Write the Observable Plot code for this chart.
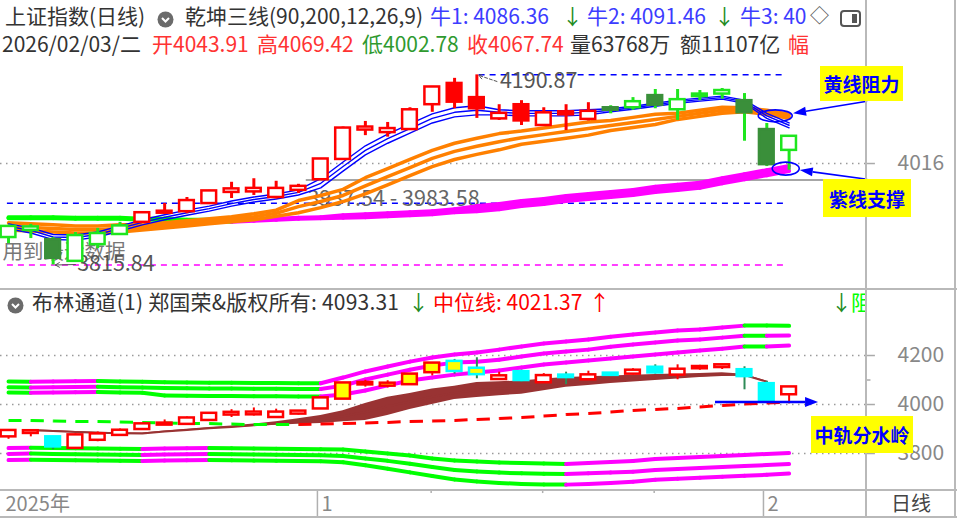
<!DOCTYPE html>
<html><head><meta charset="utf-8">
<script src="https://cdn.jsdelivr.net/npm/d3@7"></script>
<script src="https://cdn.jsdelivr.net/npm/@observablehq/plot@0.6"></script>
<style>
html,body{margin:0;padding:0;background:#fff;}
#root{position:relative;width:957px;height:518px;overflow:hidden;background:#fff;font-family:"Noto Sans CJK SC","Noto Sans",sans-serif;}
.t{position:absolute;white-space:nowrap;font-size:21px;line-height:1;}
.hl{position:absolute;background:#b9b9b9;}
.box{position:absolute;background:#ffff00;color:#0000ff;font-weight:bold;font-size:19px;display:flex;align-items:center;justify-content:center;white-space:nowrap;}
.panel{position:absolute;left:0;}
</style></head>
<body><div id="root"></div>
<script>
// ---------------- DATA ----------------
const dates = ["12-12","12-15","12-16","12-17","12-18","12-19","12-22","12-23","12-24","12-25","12-26","12-29","12-30","12-31","01-05","01-06","01-07","01-08","01-09","01-12","01-13","01-14","01-15","01-16","01-19","01-20","01-21","01-22","01-23","01-26","01-27","01-28","01-29","01-30","02-02","02-03"];
const open  = [3872,3886,3864,3825,3858,3878,3902,3920,3923,3939,3961,3962,3951,3965,3986,4026,4084,4079,4085,4134,4172,4144,4106,4130,4093,4116,4105,4124,4128,4148,4124,4150,4155,4138,4081,4043.91];
const high  = [3894,3896,3870,3880,3888,3900,3920,3937,3949,3963,3979,3986,3981,3975,4025,4088,4099,4097,4126,4168,4184,4190.87,4132,4140,4126,4132,4136,4130,4146,4162,4162,4160,4164,4154,4095,4069.42];
const low   = [3858,3868,3815.84,3822,3848,3874,3900,3917,3917,3936,3947,3953,3946,3957,3985,4023,4071,4068,4084,4117,4124,4105,4101,4091,4090,4081,4100,4114,4121,4124,4101,4140,4143,4060,4010,4002.78];
const close = [3890,3889,3831,3872,3876,3891,3917,3920,3941,3960,3964,3965,3965,3969,4023,4084,4086,4083,4120,4165,4139,4126,4113,4102,4114,4114,4117,4123,4136,4133,4140,4151,4158,4118,4015.75,4067.74];
const trend = ["空","空","空","空","空","空","多","多","多","多","多","多","多","多","多","多","多","多","多","多","多","多","多","多","多","多","多","空","空","空","空","空","空","空","空","空"];

// 乾坤三线 (top panel)
const blue1 = [3887,3879,3866,3865,3871,3883,3895,3905,3914,3922,3932,3940,3946,3954,3968,4001,4033,4056,4076,4096,4108,4112,4112,4110,4110,4110,4112,4118,4123,4129,4135,4139,4143,4135,4105,4086.36];
const blue2 = [3892,3884,3871,3870,3876,3888,3900,3910,3919,3927,3937,3945,3951,3959,3977,4010,4042,4065,4085,4105,4117,4121,4117,4115,4115,4115,4117,4121,4126,4132,4138,4142,4146,4138,4110,4091.46];
const blue3 = [3897,3889,3876,3875,3881,3893,3905,3915,3924,3932,3942,3950,3956,3964,3986,4019,4051,4074,4094,4114,4126,4130,4122,4120,4120,4120,4122,4124,4129,4135,4141,4145,4149,4141,4115,4096];
const orange1 = [3885,3883,3881,3879,3879,3881,3885,3889,3893,3897,3901,3905,3912,3919,3929,3941,3956,3974,3992,4010,4024,4034,4043,4054,4060,4066,4072,4081,4087,4093,4103,4109,4115,4118,4113,4105];
const orange2 = [3892,3890,3888,3886,3886,3888,3890,3894,3898,3902,3906,3911,3918,3931,3941,3953,3972,3990,4008,4026,4040,4050,4059,4067,4073,4079,4085,4091,4097,4103,4109,4115,4121,4122,4117,4109];
const orange3 = [3899,3897,3895,3893,3893,3895,3895,3899,3903,3907,3911,3917,3924,3943,3953,3965,3988,4006,4024,4042,4056,4066,4075,4080,4086,4092,4098,4101,4107,4113,4115,4121,4127,4126,4121,4113];
const purple1 = [3908,3908,3908,3907,3907,3907,3905,3905,3903,3903,3901,3903,3905,3907,3908,3909,3910,3912,3914,3916,3920,3922,3926,3932,3936,3942,3946,3950,3954,3960,3964,3968,3977,3985,3993,4001];
const purple2 = [3909,3909,3909,3908,3908,3908,3906,3906,3904,3904,3902,3904,3906,3908,3909,3911,3913,3915,3917,3919,3923,3927,3931,3937,3941,3947,3951,3955,3959,3965,3969,3973,3982,3990,3998,4006];
const purple3 = [3910,3910,3910,3909,3909,3909,3907,3907,3905,3905,3903,3905,3907,3909,3910,3914,3916,3918,3920,3922,3926,3932,3936,3942,3946,3952,3956,3960,3964,3970,3974,3978,3987,3995,4003,4011];
const periodHigh = 4190.87, periodLow = 3815.84;
const gapLow = 3937.54, gapHigh = 3983.58;
const topTicks = [4016];

// 布林通道 (bottom panel)
const bollUp1 = [4094,4093,4094,4095,4096,4094,4093,4091,4090,4089,4089,4088,4088,4087,4087,4110,4135,4155,4175,4192,4204,4212,4224,4237,4249,4257,4265,4277,4286,4294,4302,4306,4314,4322,4322,4321];
const bollUp2 = [4070,4069,4070,4071,4072,4070,4069,4067,4066,4065,4065,4064,4064,4063,4063,4077,4102,4122,4142,4159,4171,4175,4183,4196,4208,4216,4224,4236,4245,4253,4261,4265,4273,4281,4281,4282];
const bollUp3 = [4049,4048,4049,4050,4051,4049,4048,4037,4036,4035,4035,4034,4034,4033,4033,4041,4057,4078,4098,4110,4122,4131,4139,4151,4163,4171,4180,4188,4196,4204,4212,4220,4228,4237,4237,4241];
const bollLo1 = [3822,3824,3822,3821,3820,3819,3818,3820,3821,3822,3821,3820,3819,3818,3817,3816,3808,3800,3792,3780,3771,3767,3763,3761,3759,3757,3761,3765,3769,3778,3782,3786,3790,3794,3798,3802];
const bollLo2 = [3798,3800,3798,3797,3796,3795,3794,3796,3797,3798,3797,3796,3795,3794,3793,3790,3780,3770,3758,3745,3733,3727,3722,3719,3717,3716,3719,3722,3726,3733,3737,3741,3745,3749,3753,3757];
const bollLo3 = [3773,3775,3773,3772,3771,3770,3769,3771,3772,3773,3772,3771,3770,3769,3768,3764,3752,3738,3723,3708,3694,3686,3680,3676,3674,3673,3676,3680,3685,3693,3697,3701,3705,3709,3713,3718];
const midLine = [3935,3935,3933,3931,3931,3929,3927,3925,3922,3922,3920,3918,3918,3918,3920,3922,3925,3927,3931,3933,3935,3939,3943,3947,3953,3959,3963,3969,3976,3980,3984,3990,3996,4002,4006,4010];
const bandTop = [null,3898,3894,3890,3887,3885,3884,3892,3899,3906,3912,3920,3930,3942,3955,3975,4004,4030,4045,4063,4075,4090,4093,4096,4104,4110,4113,4116,4119,4122,4125,4127,4130,4124,4095,null];
const bandBot = [null,3892,3889,3886,3883,3881,3880,3887,3893,3900,3905,3910,3915,3919,3922,3930,3935,3955,3980,4000,4020,4029,4036,4042,4056,4070,4078,4086,4092,4098,4104,4110,4114,4116,4091,null];
const bottomTicks = [3800, 4000, 4200];
const bottomMinorTicks = [3900, 4100];

// time axis
const monthTicks = [14, 34];
const monthLabels = ["1", "2"];
const weekTicks = [19, 24, 29];
const yearLabel = "2025年";

// header values
const bullValues = [4086.36, 4091.46];
const bollHeaderValue = 4093.31, midHeaderValue = 4021.37;
const volumeText = "63768万", amountText = "11107亿";

// ---------------- LAYOUT ----------------
const FONT = "Noto Sans CJK SC, Noto Sans, sans-serif";
const W = 957, MR = 91;
const xMin = -0.36, xMax = 38.47;
const N = close.length, I = d3.range(N), last = N - 1;
const RED = "#ff0000", GREEN = "#1ee61e", DKGREEN = "#3a8f3a", BLUE = "#0000ff",
      ORANGE = "#ff8000", MAG = "#ff00ff", LIME = "#00ff00", CYAN = "#00ffff", YELLOW = "#ffff00";
const root = document.getElementById("root");

function addDiv(cls, css, html, parent) {
  const d = document.createElement("div"); d.className = cls;
  Object.assign(d.style, css); if (html) d.innerHTML = html; (parent || root).appendChild(d); return d;
}
const hdr = addDiv("panel", {top: "0px", left: "0px", width: "866px", height: "518px", overflow: "hidden"});
function addText(txt, x, cy, color, parent, css) {
  const s = document.createElement("div");
  s.className = "t"; s.textContent = txt;
  s.style.left = x + "px"; s.style.top = (cy - 12) + "px"; s.style.color = color;
  if (css) Object.assign(s.style, css);
  (parent || hdr).appendChild(s);
  return s;
}

const circleIcon = '<svg width="17" height="17"><circle cx="8.5" cy="8.5" r="8" fill="#6b6b6b"/><path d="M5 7 L8.5 10.5 L12 7" stroke="#fff" stroke-width="2" fill="none"/></svg>';

// Row 1
addText("上证指数(日线)", 5, 17, "#333");
addDiv("panel", {left: "157px", top: "8.5px", width: "17px", height: "17px"}, circleIcon);
addText("乾坤三线(90,200,12,26,9)", 185, 17, "#333");
addText("牛1: " + bullValues[0].toFixed(2), 430, 17, "#3c3cff");
addText("↓", 562, 17, "#228b22");
addText("牛2: " + bullValues[1].toFixed(2), 587, 17, "#3c3cff");
addText("↓", 714, 17, "#228b22");
addText("牛3: 40", 740, 17, "#3c3cff");
addText("◇", 810, 17, "#555", null, {fontSize: "19px"});
addDiv("panel", {left: "840px", top: "8px", width: "21px", height: "17px"},
  '<svg width="21" height="17"><rect x="1" y="1" width="19" height="15" rx="3" fill="none" stroke="#555" stroke-width="2"/><rect x="12" y="4" width="5" height="9" fill="#555"/></svg>');
// Row 2
addText("2026/02/03/二", 2, 45, "#333");
addText("开" + open[last].toFixed(2), 152, 45, "#ff3333");
addText("高" + high[last].toFixed(2), 257, 45, "#ff3333");
addText("低" + low[last].toFixed(2), 362, 45, "#2f9a2f");
addText("收" + close[last].toFixed(2), 467, 45, "#ff3333");
addText("量" + volumeText, 570, 45, "#333");
addText("额" + amountText, 680, 45, "#333");
addText("幅", 788, 45, "#ff3333");
// bottom header
addDiv("panel", {left: "6.5px", top: "294.5px", width: "17px", height: "17px"}, circleIcon);
addText("布林通道(1) 郑国荣&版权所有: " + bollHeaderValue.toFixed(2), 32, 303, "#333", null, {letterSpacing: "0.2px"});
addText("↓", 408, 303, "#228b22");
addText("中位线: " + midHeaderValue.toFixed(2), 433, 303, "#ff0000");
addText("↑", 589, 303, "#ff0000");
addText("↓", 831, 303, "#228b22");
addText("阻", 851, 303, "#00ff00");

// ---------------- helpers ----------------
function segs(arr) {
  const out = [];
  for (let i = 1; i < arr.length; i++)
    if (arr[i] != null && arr[i - 1] != null)
      out.push({x1: i - 1, x2: i, y1: arr[i - 1], y2: arr[i], up: arr[i] > arr[i - 1]});
  return out;
}
function slopeLine(arr, upColor, downColor, w, extra) {
  return Plot.link(segs(arr), Object.assign({x1: "x1", x2: "x2", y1: "y1", y2: "y2",
    stroke: d => d.up ? upColor : downColor, strokeWidth: w, strokeLinecap: "round"}, extra || {}));
}
function arrowPx(svg, x1, y1, x2, y2, color, width, hl, hw) {
  const g = d3.select(svg).append("g");
  const a = Math.atan2(y2 - y1, x2 - x1);
  const bx = x2 - hl * Math.cos(a), by = y2 - hl * Math.sin(a);
  g.append("line").attr("x1", x1).attr("y1", y1).attr("x2", bx).attr("y2", by)
    .attr("stroke", color).attr("stroke-width", width);
  const nx = -Math.sin(a) * hw / 2, ny = Math.cos(a) * hw / 2;
  g.append("path").attr("d", `M${x2},${y2}L${bx + nx},${by + ny}L${bx - nx},${by - ny}Z`).attr("fill", color);
}
function ellipse(svg, cx, cy, rx, ry) {
  d3.select(svg).append("ellipse").attr("cx", cx).attr("cy", cy).attr("rx", rx).attr("ry", ry)
    .attr("fill", "none").attr("stroke", BLUE).attr("stroke-width", 1.6);
}

const candles = I.map(i => ({i, o: open[i], h: high[i], l: low[i], c: close[i],
  up: close[i] >= open[i], bull: trend[i] === "多", hot: high[i] > bollUp3[i]}));
const lineEnd = last - 0.15;
const highIdx = high.indexOf(periodHigh), lowIdx = low.indexOf(periodLow);

// ---------------- TOP PANEL ----------------
const topWick = d => d.bull ? RED : GREEN;
const topStroke = d => d.bull ? RED : (d.up ? GREEN : DKGREEN);
const topFill = d => d.up ? "#fff" : (d.bull ? RED : DKGREEN);

const topChart = Plot.plot({
  width: W, height: 228, marginLeft: 0, marginRight: MR, marginTop: 0, marginBottom: 0,
  x: {domain: [xMin, xMax], axis: null},
  y: {domain: [3769.5, 4219.2], axis: null},
  style: {background: "transparent", overflow: "visible", fontFamily: FONT},
  marks: [
    Plot.ruleY(topTicks, {x1: () => xMin, x2: () => xMax, stroke: "#9a9a9a", strokeWidth: 1.5, strokeDasharray: "1.5,4.5"}),
    Plot.ruleY([gapHigh], {x1: () => 13.35, x2: () => xMax, stroke: "#a6a6a6", strokeWidth: 2}),
    Plot.ruleY([gapLow], {x1: () => -0.05, x2: () => lineEnd, stroke: BLUE, strokeWidth: 1.5, strokeDasharray: "6,5"}),
    Plot.ruleY([periodHigh], {x1: () => highIdx + 0.1, x2: () => lineEnd, stroke: BLUE, strokeWidth: 1.5, strokeDasharray: "6,5"}),
    Plot.ruleY([periodLow], {x1: () => -0.05, x2: () => lineEnd, stroke: MAG, strokeWidth: 1.5, strokeDasharray: "6,5"}),
    Plot.text([gapLow.toFixed(2) + " - " + gapHigh.toFixed(2)], {x: () => 13.4, y: () => gapLow, dy: -4, text: d => d, textAnchor: "start", fill: "#666", fontSize: 21.5}),
    Plot.text(["用到最近数据"], {x: () => xMin, y: () => 3840, dx: 2, text: d => d, textAnchor: "start", fill: "#777", fontSize: 20.5}),
    Plot.text([periodHigh], {x: () => highIdx, y: d => d, text: d => d.toFixed(2), dx: 23, dy: 6, textAnchor: "start", fill: "#555", fontSize: 21.5}),
    Plot.arrow([periodHigh], {x1: () => highIdx + 0.9, y1: d => d - 13, x2: () => highIdx + 0.08, y2: d => d - 1, stroke: "#555", strokeWidth: 1, headLength: 7, strokeDasharray: "3,2"}),
    Plot.text([periodLow], {x: () => lowIdx, y: d => d, text: d => d.toFixed(2), dx: 24, dy: -1, textAnchor: "start", fill: "#555", fontSize: 21.5}),
    Plot.arrow([periodLow], {x1: () => lowIdx + 1.0, y1: d => d + 1, x2: () => lowIdx + 0.1, y2: d => d, stroke: "#555", strokeWidth: 1, headLength: 7}),
    slopeLine(purple1, MAG, LIME, 4),
    slopeLine(purple3, MAG, LIME, 4),
    slopeLine(purple2, MAG, LIME, 3),
    Plot.line(I, {x: i => i, y: i => orange1[i], stroke: ORANGE, strokeWidth: 3.5}),
    Plot.line(I, {x: i => i, y: i => orange2[i], stroke: ORANGE, strokeWidth: 3.5}),
    Plot.line(I, {x: i => i, y: i => orange3[i], stroke: ORANGE, strokeWidth: 3.5}),
    Plot.line(I, {x: i => i, y: i => blue1[i], stroke: BLUE, strokeWidth: 1.4}),
    Plot.line(I, {x: i => i, y: i => blue2[i], stroke: BLUE, strokeWidth: 1.4}),
    Plot.line(I, {x: i => i, y: i => blue3[i], stroke: BLUE, strokeWidth: 1.4}),
    Plot.ruleX(candles, {x: "i", y1: "l", y2: "h", stroke: topWick, strokeWidth: 3}),
    Plot.rect(candles, {x1: d => d.i - 0.33, x2: d => d.i + 0.33, y1: "o", y2: "c", fill: topFill, stroke: topStroke, strokeWidth: 2.5, insetTop: -1, insetBottom: -1}),
    Plot.ruleY(topTicks, {x1: () => xMax, x2: () => xMax + 0.4, stroke: "#aaa", strokeWidth: 1.5}),
    Plot.text(topTicks, {x: () => xMax, y: d => d, text: d => String(d), dx: 31, textAnchor: "start", fill: "#888", fontSize: 21})
  ]
});
const topWrap = addDiv("panel", {top: "60px", left: "0px"});
topWrap.appendChild(topChart);
{
  const sx = topChart.scale("x"), sy = topChart.scale("y");
  const X = v => sx.apply(v), Y = v => sy.apply(v);
  ellipse(topChart, X(last - 0.6), Y(orange2[last]), 17, 6);
  ellipse(topChart, X(last - 0.13), Y(purple2[last] - 1), 13.5, 6.5);
  arrowPx(topChart, X(xMax + 0.05), Y(orange2[last] + 29), X(last + 0.2), Y(orange2[last] + 5), BLUE, 1.6, 13, 9);
  arrowPx(topChart, X(xMax + 0.05), Y(purple2[last] - 22), X(last + 0.5), Y(purple2[last] - 4), BLUE, 1.6, 13, 9);
}

// ---------------- BOTTOM PANEL ----------------
const botStroke = d => d.up ? RED : CYAN;
const botFill = d => d.hot ? YELLOW : (d.up ? "#fff" : CYAN);
const botWick = d => d.up ? RED : "#2e8b57";
const bandData = I.filter(i => bandTop[i] != null);

const botChart = Plot.plot({
  width: W, height: 174, marginLeft: 0, marginRight: MR, marginTop: 0, marginBottom: 0,
  x: {domain: [xMin, xMax], axis: null},
  y: {domain: [3653.1, 4363.3], axis: null},
  style: {background: "transparent", overflow: "visible", fontFamily: FONT},
  marks: [
    Plot.ruleY(bottomTicks, {x1: () => xMin, x2: () => xMax, stroke: "#9a9a9a", strokeWidth: 1.5, strokeDasharray: "1.5,4.5"}),
    slopeLine(bollUp1, MAG, LIME, 4),
    slopeLine(bollUp2, MAG, LIME, 4),
    slopeLine(bollUp3, MAG, LIME, 4),
    slopeLine(bollLo1, MAG, LIME, 4),
    slopeLine(bollLo2, MAG, LIME, 4),
    slopeLine(bollLo3, MAG, LIME, 4),
    Plot.areaY(bandData, {x: i => i, y1: i => bandBot[i], y2: i => bandTop[i], fill: "#993333"}),
    Plot.line(bandData, {x: i => i, y: i => (bandTop[i] + bandBot[i]) / 2, stroke: "#993333", strokeWidth: 2}),
    slopeLine(midLine, RED, LIME, 3, {strokeDasharray: "13,9", strokeLinecap: "butt"}),
    Plot.ruleX(candles, {x: "i", y1: "l", y2: "h", stroke: botWick, strokeWidth: 2}),
    Plot.rect(candles, {x1: d => d.i - 0.33, x2: d => d.i + 0.33, y1: "o", y2: "c", fill: botFill, stroke: botStroke, strokeWidth: 2.5, insetTop: -1, insetBottom: -1}),
    Plot.ruleY(bottomTicks, {x1: () => xMax, x2: () => xMax + 0.4, stroke: "#aaa", strokeWidth: 1.5}),
    Plot.ruleY(bottomMinorTicks, {x1: () => xMax, x2: () => xMax + 0.2, stroke: "#aaa", strokeWidth: 1.5}),
    Plot.text(bottomTicks, {x: () => xMax, y: d => d, text: d => String(d), dx: 31, textAnchor: "start", fill: "#888", fontSize: 21})
  ]
});
const botWrap = addDiv("panel", {top: "315px", left: "0px"});
botWrap.appendChild(botChart);
{
  const sx = botChart.scale("x"), sy = botChart.scale("y");
  arrowPx(botChart, sx.apply(last - 3.3), sy.apply(midLine[last] - 2), sx.apply(last + 1.32), sy.apply(midLine[last] - 2), BLUE, 2.5, 13, 10);
}

// ---------------- TIME AXIS ----------------
const axisChart = Plot.plot({
  width: W, height: 29, marginLeft: 0, marginRight: MR, marginTop: 0, marginBottom: 0,
  x: {domain: [xMin, xMax], axis: null},
  y: {domain: [0, 1], axis: null},
  style: {background: "transparent", overflow: "visible", fontFamily: FONT},
  marks: [
    Plot.ruleX(monthTicks, {x: d => d - 0.15, y1: () => 0, y2: () => 1, stroke: "#b0b0b0", strokeWidth: 1.5}),
    Plot.ruleX(weekTicks, {x: d => d - 0.05, y1: () => 1, y2: () => 0.86, stroke: "#b0b0b0", strokeWidth: 1.5}),
    Plot.text(monthTicks, {x: d => d - 0.15, y: () => 0.48, text: (d, i) => monthLabels[i], dx: 4, textAnchor: "start", fill: "#888", fontSize: 20}),
    Plot.text([yearLabel], {x: () => xMin, y: () => 0.48, text: d => d, dx: 5, textAnchor: "start", fill: "#888", fontSize: 20})
  ]
});
const axWrap = addDiv("panel", {top: "489px", left: "0px"});
axWrap.appendChild(axisChart);
addText("日线", 891, 505, "#444", root, {fontSize: "20px"});

// ---------------- FRAME ----------------
addDiv("hl", {left: "865px", top: "0px", width: "2px", height: "518px"});
addDiv("hl", {left: "954px", top: "0px", width: "2px", height: "518px"});
addDiv("hl", {left: "0px", top: "287.5px", width: "957px", height: "2px"});
addDiv("hl", {left: "0px", top: "488.5px", width: "957px", height: "2px"});
addDiv("hl", {left: "0px", top: "515.5px", width: "957px", height: "2px"});

// callout boxes
addDiv("box", {left: "820px", top: "66px", width: "83px", height: "35px"}, "黄线阻力");
addDiv("box", {left: "823px", top: "179px", width: "88px", height: "38px"}, "紫线支撑");
addDiv("box", {left: "811px", top: "416px", width: "102px", height: "37px"}, "中轨分水岭");
</script>
</body></html>
